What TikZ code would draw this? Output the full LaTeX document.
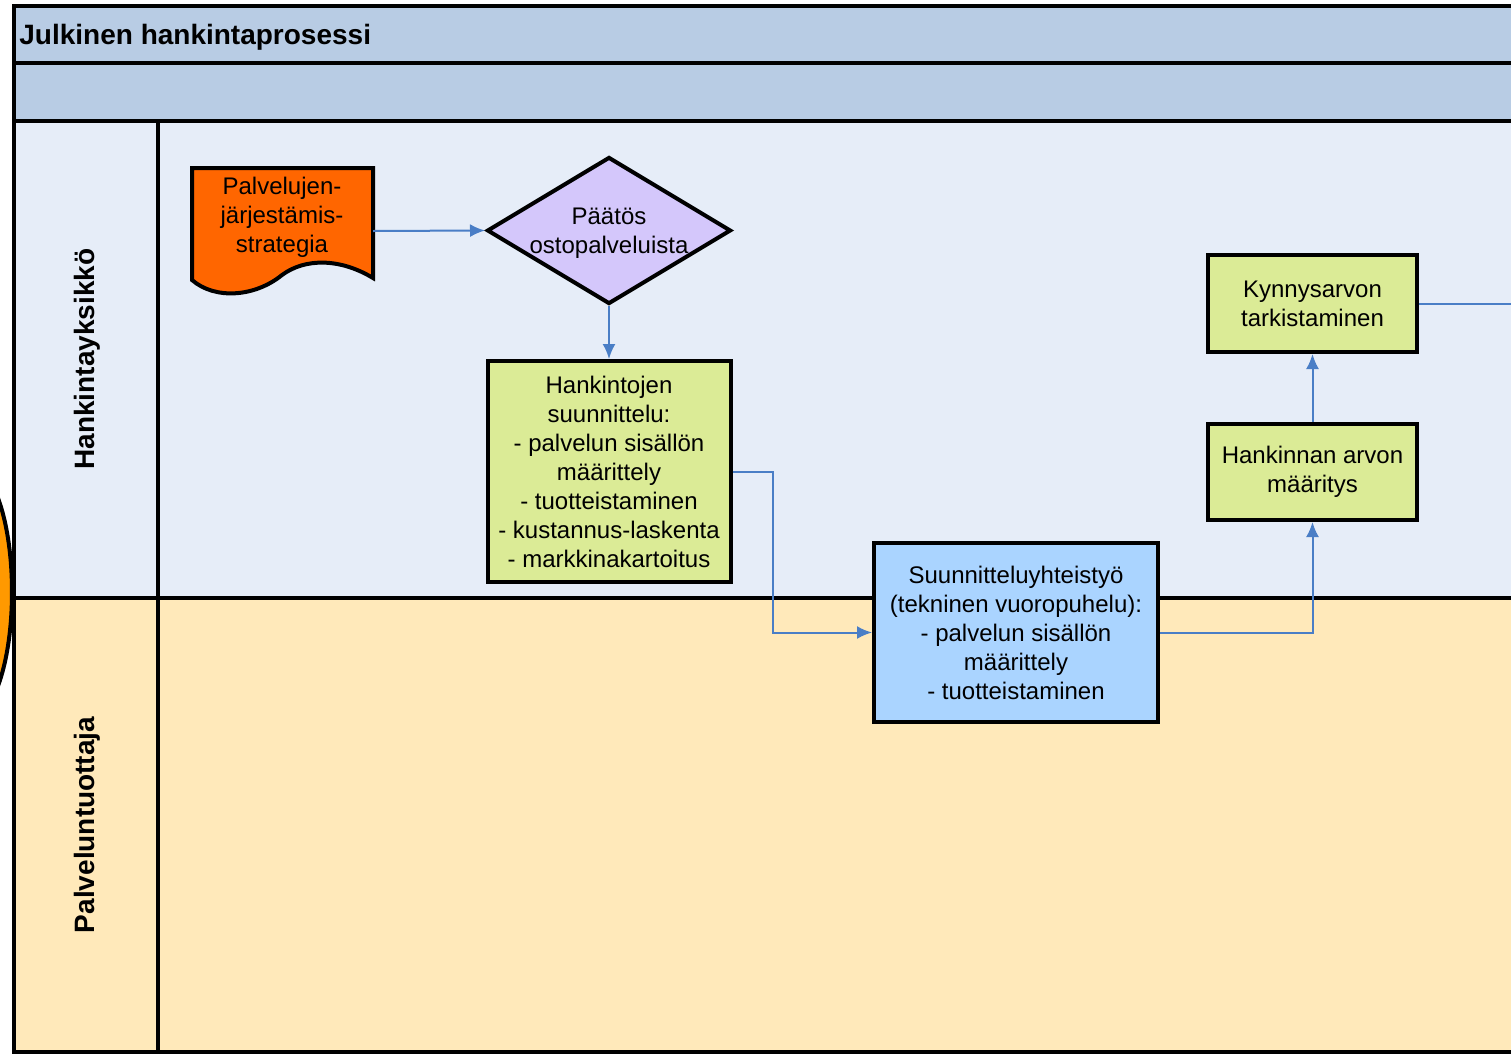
\documentclass[tikz,border=0pt]{standalone}
\usepackage{fontspec}
\setmainfont{Liberation Sans}
\usetikzlibrary{shapes.geometric,arrows.meta}
\definecolor{titleblue}{RGB}{184,204,228}
\definecolor{buyerlane}{RGB}{230,237,248}
\definecolor{providerlane}{RGB}{255,233,186}
\definecolor{docorange}{RGB}{255,102,0}
\definecolor{blobyellow}{RGB}{255,153,0}
\definecolor{decisionlilac}{RGB}{212,199,251}
\definecolor{taskgreen}{RGB}{219,235,150}
\definecolor{coopblue}{RGB}{170,212,255}
\definecolor{flowblue}{RGB}{74,126,198}

\begin{document}
\begin{tikzpicture}[x=0.5pt, y=-0.5pt,
    frame/.style={line width=2pt, draw=black},
    txt/.style={align=center, inner sep=0pt, font=\fontsize{12}{14.5}\selectfont},
    task/.style={txt, draw=black, line width=2pt, fill=taskgreen},
    decision/.style={diamond, draw=black, line width=2pt, fill=decisionlilac, inner sep=0pt,
        minimum width=122pt, minimum height=73.5pt},
    lanelabel/.style={rotate=90, anchor=base, inner sep=0pt, font=\bfseries\fontsize{14}{17}\selectfont},
    flow/.style={draw=flowblue, line width=1pt, -{Latex[length=7.5pt,width=6.5pt]}},
    link/.style={draw=flowblue, line width=1pt}]

    \useasboundingbox (0,0) rectangle (1511,1055);

    % orange blob at left edge
    \draw[frame, fill=blobyellow] (-30,592) ellipse [x radius=42, y radius=126];

    % pool header
    \draw[frame, fill=titleblue] (14,6) rectangle (1540,63);
    \draw[frame, fill=titleblue] (14,63) rectangle (1540,121);
    \node[anchor=base west, inner sep=0pt, font=\bfseries\fontsize{14}{17}\selectfont] (title) at (19,44) {Julkinen hankintaprosessi};

    % swimlanes
    \draw[frame, fill=buyerlane] (14,121) rectangle (1540,598);
    \draw[frame, fill=providerlane] (14,598) rectangle (1540,1052);
    \draw[frame] (158,121) -- (158,1052);
    \node[lanelabel] (buyer) at (94,359) {Hankintayksikkö};
    \node[lanelabel] (provider) at (94,825) {Palveluntuottaja};

    % strategy document
    \draw[frame, fill=docorange] (192,168) -- (373,168) -- (373,278)
        .. controls (340,258) and (305,258) .. (282,275)
        .. controls (255,297) and (215,300) .. (192,280) -- cycle;
    \node[txt] (strategy) at (282,217) {Palvelujen-\\järjestämis-\\strategia};
    \coordinate (strategy out) at (373,231);

    % decision
    \node[decision] (decision) at (609,230.5) {};
    \node[txt] (decision text) at (609,233) {Päätös\\ostopalveluista};

    % tasks
    \node[task, minimum width=121.5pt, minimum height=110.5pt] (planning) at (609,471.5)
        {Hankintojen\\suunnittelu:\\- palvelun sisällön\\määrittely\\- tuotteistaminen\\- kustannus-laskenta\\- markkinakartoitus};
    \node[task, fill=coopblue, minimum width=142pt, minimum height=89.5pt] (cooperation) at (1016,632.5)
        {Suunnitteluyhteistyö\\(tekninen vuoropuhelu):\\- palvelun sisällön\\määrittely\\- tuotteistaminen};
    \node[task, minimum width=104.5pt, minimum height=48pt] (value) at (1312.5,472)
        {Hankinnan arvon\\määritys};
    \node[task, minimum width=104.5pt, minimum height=48.5pt] (threshold) at (1312.5,303.5)
        {Kynnysarvon\\tarkistaminen};
    \coordinate (offpage) at (1530,303.5);

    % connectors
    \draw[flow] (strategy out) -- (decision.west);
    \draw[flow] (decision.south) -- (planning.north);
    \draw[flow] (planning.east) -- ++(40,0) |- (cooperation.west);
    \draw[flow] (cooperation.east) -| (value.south);
    \draw[flow] (value.north) -- (threshold.south);
    \draw[link] (threshold.east) -- (offpage);

\end{tikzpicture}
\end{document}
